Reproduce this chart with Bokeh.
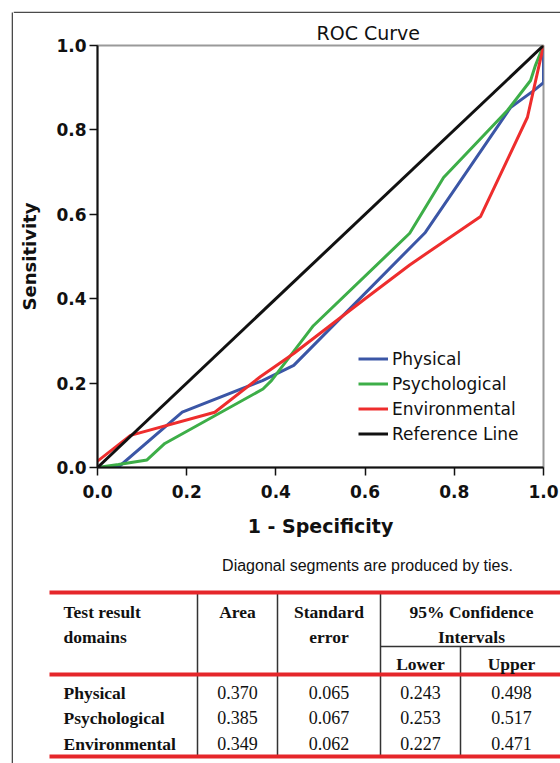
from bokeh.plotting import figure
from bokeh.models import (Range1d, FixedTicker, PrintfTickFormatter, Legend,
                          LegendItem, Title)
from bokeh.layouts import row, column
from bokeh.embed import file_html
from bokeh.resources import INLINE
from bokeh.core.properties import value

# ---------------- data ----------------
# ROC curves: x = 1 - specificity, y = sensitivity
phys_x = [0.0, 0.046, 0.19, 0.37, 0.44, 0.735, 0.926, 0.978, 1.0, 1.0]
phys_y = [0.0, 0.0, 0.131, 0.206, 0.242, 0.557, 0.853, 0.893, 0.912, 1.0]

psych_x = [0.0, 0.047, 0.111, 0.151, 0.371, 0.39, 0.484, 0.70, 0.776, 0.919, 0.971, 0.982, 1.0]
psych_y = [0.0, 0.007, 0.018, 0.057, 0.186, 0.206, 0.336, 0.555, 0.687, 0.846, 0.917, 0.953, 1.0]

env_x = [0.0, 0.074, 0.263, 0.365, 0.44, 0.60, 0.70, 0.859, 0.964, 1.0]
env_y = [0.015, 0.076, 0.131, 0.215, 0.27, 0.40, 0.48, 0.595, 0.83, 1.0]

ref_x = [0.0, 1.0]
ref_y = [0.0, 1.0]

series_names = ["Physical", "Psychological", "Environmental", "Reference Line"]
tick_values = [0.0, 0.2, 0.4, 0.6, 0.8, 1.0]

# table
table_domains = ["Physical", "Psychological", "Environmental"]
table_area = [0.370, 0.385, 0.349]
table_se = [0.065, 0.067, 0.062]
table_lower = [0.243, 0.253, 0.227]
table_upper = [0.498, 0.517, 0.471]
header_line1 = ["Test result", "Area", "Standard", "95% Confidence"]
header_line2 = ["domains", "", "error", "Intervals"]
subheader = ["Lower", "Upper"]
caption = "Diagonal segments are produced by ties."

# ---------------- layout constants (page pixels) ----------------
W, H = 560, 763
LS = 13            # left strip width
TS = 13            # top strip height
CW = W - LS
CHART_H = 542
TABLE_H = H - TS - CHART_H

SANS = "DejaVu Sans"
SERIF = "Liberation Serif"
FRAME_COL = "#4a4a4a"


def blank(width, height, xr, yr):
    f = figure(width=width, height=height, x_range=xr, y_range=yr,
               output_backend="svg", toolbar_location=None,
               x_axis_type=None, y_axis_type=None,
               min_border=0, min_border_left=0, min_border_right=0,
               min_border_top=0, min_border_bottom=0, frame_align=False)
    f.outline_line_color = None
    f.xgrid.visible = False
    f.ygrid.visible = False
    f.background_fill_color = "white"
    f.border_fill_color = "white"
    return f


# outer frame strips (ranges equal page coordinates)
left_strip = blank(LS, H, Range1d(0, LS), Range1d(H, 0))
left_strip.segment(x0=[12], y0=[12], x1=[12], y1=[H], line_color=FRAME_COL, line_width=1.6)

top_strip = blank(CW, TS, Range1d(LS, W), Range1d(TS, 0))
top_strip.segment(x0=[LS], y0=[12], x1=[W], y1=[12], line_color=FRAME_COL, line_width=1.6)

# ---------------- ROC chart ----------------
p = figure(width=CW, height=CHART_H, x_range=Range1d(0, 1), y_range=Range1d(0, 1),
           output_backend="svg", toolbar_location=None, frame_align=False,
           min_border_left=97 - LS, min_border_right=W - 543,
           min_border_top=45 - TS, min_border_bottom=TS + CHART_H - 467)
p.xgrid.visible = False
p.ygrid.visible = False
p.background_fill_color = "white"
p.border_fill_color = "white"
p.outline_line_color = "#9a9a9a"
p.outline_line_width = 2

p.title = Title(text="ROC Curve", align="left", offset=219, standoff=4,
                text_font=SANS, text_font_size="19px", text_font_style="normal",
                text_color="#111111")

for ax in (p.xaxis[0], p.yaxis[0]):
    ax.ticker = FixedTicker(ticks=tick_values)
    ax.formatter = PrintfTickFormatter(format="%.1f")
    ax.major_label_text_font = SANS
    ax.major_label_text_font_size = "17px"
    ax.major_label_text_font_style = "bold"
    ax.major_label_text_color = "#111111"
    ax.axis_line_width = 2
    ax.axis_line_color = "#111111"
    ax.major_tick_line_width = 1.5
    ax.major_tick_line_color = "#111111"
    ax.major_tick_out = 8
    ax.major_tick_in = 0
    ax.minor_tick_line_color = None
    ax.axis_label_text_font = SANS
    ax.axis_label_text_font_style = "bold"
    ax.axis_label_text_color = "#111111"

p.xaxis.axis_label = "1 - Specificity"
p.xaxis.axis_label_text_font_size = "19px"
p.xaxis.major_label_standoff = 9
p.xaxis.axis_label_standoff = 14

p.yaxis.axis_label = "Sensitivity"
p.yaxis.axis_label_text_font_size = "18px"
p.yaxis.major_label_standoff = 3
p.yaxis.axis_label_standoff = 13

colors = ["#3b56a6", "#3dae48", "#ee2d2d", "#111111"]
r_phys = p.line(phys_x, phys_y, line_color=colors[0], line_width=3)
r_psych = p.line(psych_x, psych_y, line_color=colors[1], line_width=3)
r_env = p.line(env_x, env_y, line_color=colors[2], line_width=3)
r_ref = p.line(ref_x, ref_y, line_color=colors[3], line_width=3)

legend = Legend(items=[LegendItem(label=series_names[i], renderers=[r])
                       for i, r in enumerate([r_phys, r_psych, r_env, r_ref])],
                location=(261, 21), orientation="vertical",
                glyph_width=30, glyph_height=25, label_height=25,
                label_standoff=4, spacing=0, padding=0, margin=0,
                label_text_font=SANS, label_text_font_size="17px",
                label_text_color="#111111",
                border_line_color=None, background_fill_alpha=0)
p.add_layout(legend)

# ---------------- caption + table ----------------
t = blank(CW, TABLE_H, Range1d(LS, W), Range1d(H, TS + CHART_H))

t.text(x=[367], y=[565], text=[caption], text_align="center", text_baseline="middle",
       text_font=value("Liberation Sans"), text_font_size="16px", text_color="#111111")

col_edges = [49, 197, 277, 380, 460, 562]
y_top, y_head, y_sub, y_bot = 592, 674, 646, 756
row_y1, row_y2, row_sub = 611, 636, 663
body_y = [692, 717, 743]
thin_col = "#333333"
red_col = "#e5262a"

# thin rules
t.segment(x0=col_edges[1:4], y0=[y_top] * 3, x1=col_edges[1:4], y1=[y_bot] * 3,
          line_color=thin_col, line_width=1.5)
t.segment(x0=[col_edges[4]], y0=[y_sub], x1=[col_edges[4]], y1=[y_bot],
          line_color=thin_col, line_width=1.5)
t.segment(x0=[col_edges[3]], y0=[y_sub], x1=[col_edges[5]], y1=[y_sub],
          line_color=thin_col, line_width=1.5)
# red rules
t.segment(x0=[col_edges[0]] * 3, y0=[y_top, y_head, y_bot], x1=[col_edges[5]] * 3,
          y1=[y_top, y_head, y_bot], line_color=red_col, line_width=4)

label_x = col_edges[0] + 14
centers = [(col_edges[i] + col_edges[i + 1]) / 2 for i in range(5)]
group_center = (col_edges[3] + col_edges[5]) / 2

head_x = [label_x, centers[1], centers[2], group_center]
head_align = ["left", "center", "center", "center"]
for i in range(4):
    for txt, yy in ((header_line1[i], row_y1), (header_line2[i], row_y2)):
        if txt:
            t.text(x=[head_x[i]], y=[yy], text=[txt], text_align=head_align[i],
                   text_baseline="middle", text_font=value(SERIF),
                   text_font_size="17.5px", text_font_style="bold", text_color="#111111")
t.text(x=[centers[3], centers[4]], y=[row_sub, row_sub], text=subheader,
       text_align="center", text_baseline="middle", text_font=value(SERIF),
       text_font_size="17.5px", text_font_style="bold", text_color="#111111")

t.text(x=[label_x] * 3, y=body_y, text=table_domains, text_align="left",
       text_baseline="middle", text_font=value(SERIF), text_font_size="17.5px",
       text_font_style="bold", text_color="#111111")
for ci, vals in zip([1, 2, 3, 4], [table_area, table_se, table_lower, table_upper]):
    t.text(x=[centers[ci]] * 3, y=body_y, text=["%.3f" % v for v in vals],
           text_align="center", text_baseline="middle", text_font=value(SERIF),
           text_font_size="18px", text_color="#111111")

layout = row(left_strip, column(top_strip, p, t))
open("out.html", "w").write(file_html(layout, INLINE))
